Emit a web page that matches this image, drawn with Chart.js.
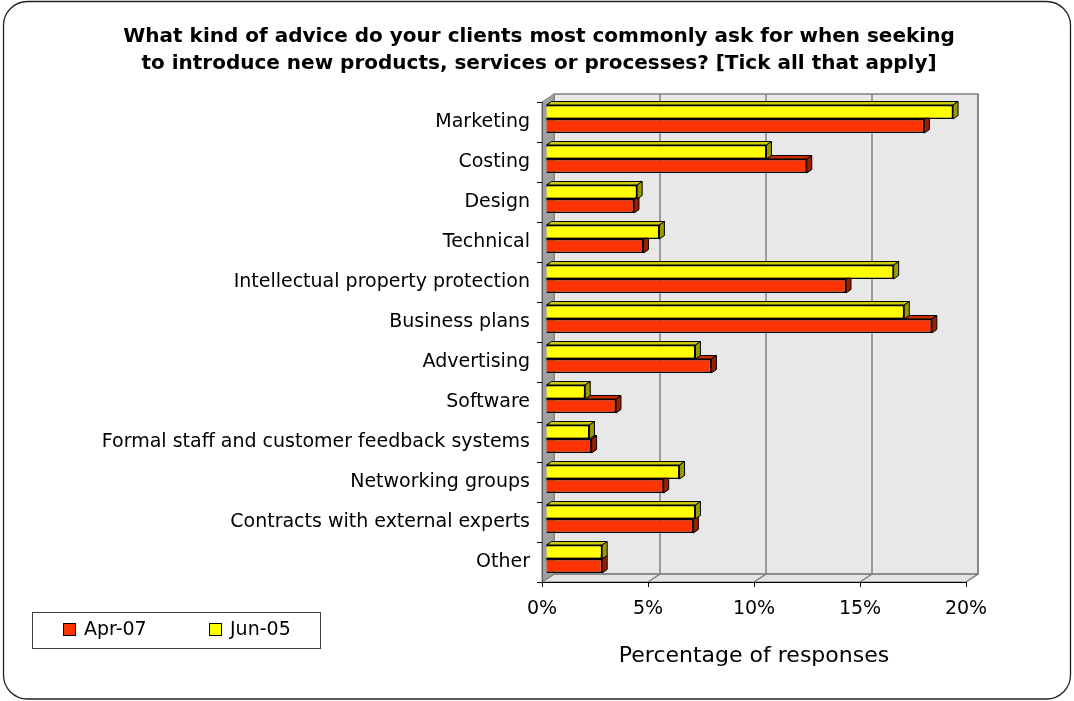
<!DOCTYPE html>
<html>
  <head>
    <style>
      html, body { margin: 0; background: #fff; }
      #chart-container { position: relative; width: 1074px; height: 701px; }
    </style>
  </head>
  <body>
    <div id="chart-container">
      <canvas id="chart"></canvas>
    </div>

    <script src="https://cdn.jsdelivr.net/npm/chart.js"></script>
    <script>
      const categories = [
        "Marketing",
        "Costing",
        "Design",
        "Technical",
        "Intellectual property protection",
        "Business plans",
        "Advertising",
        "Software",
        "Formal staff and customer feedback systems",
        "Networking groups",
        "Contracts with external experts",
        "Other"
      ];
      // percentage of responses
      const jun05 = [19.2, 10.4, 4.3, 5.35, 16.4, 16.9, 7.05, 1.85, 2.05, 6.3, 7.05, 2.65];
      const apr07 = [17.85, 12.3, 4.15, 4.6, 14.15, 18.2, 7.8, 3.3, 2.15, 5.55, 6.95, 2.65];
      const xTicks = [0, 5, 10, 15, 20];

      const titleLines = [
        "What kind of advice do your clients most commonly ask for when seeking",
        "to introduce new products, services or processes? [Tick all that apply]"
      ];

      const FONT = "'DejaVu Sans', 'Liberation Sans', Arial, sans-serif";
      Chart.defaults.font.family = FONT;
      Chart.defaults.color = '#000';

      // depth of the walls and of the bars (pseudo 3d)
      const DX = 12, DY = 8;
      const BAR_DX = 5, BAR_DY = 3.5;
      const BAR_SHIFT_X = 4, BAR_SHIFT_Y = -3;

      function poly(ctx, pts, fill, stroke, lw) {
        ctx.beginPath();
        ctx.moveTo(pts[0][0], pts[0][1]);
        for (let i = 1; i < pts.length; i++) ctx.lineTo(pts[i][0], pts[i][1]);
        ctx.closePath();
        if (fill) { ctx.fillStyle = fill; ctx.fill(); }
        if (stroke) { ctx.strokeStyle = stroke; ctx.lineWidth = lw || 1; ctx.stroke(); }
      }

      const walls = {
        id: 'walls',
        // centre the title over the plot rather than the whole canvas
        afterLayout(chart) {
          if (chart.titleBlock) chart.titleBlock.left = 112;
        },
        beforeDraw(chart) {
          const ctx = chart.ctx;
          const a = chart.chartArea;
          const x = chart.scales.x;
          ctx.save();

          // rounded frame round the whole chart
          ctx.beginPath();
          ctx.roundRect(3.5, 1.5, 1067, 697.5, 24);
          ctx.strokeStyle = '#222';
          ctx.lineWidth = 1.3;
          ctx.stroke();

          // back wall
          ctx.fillStyle = '#E8E8E8';
          ctx.fillRect(a.left + DX, a.top - DY, a.width, a.height);

          // floor
          poly(ctx, [[a.left, a.bottom], [a.left + DX, a.bottom - DY],
                     [a.right + DX, a.bottom - DY], [a.right, a.bottom]], '#E4E4E4', '#808080', 1);

          // gridlines on the floor and back wall
          ctx.strokeStyle = '#808080';
          ctx.lineWidth = 1.5;
          xTicks.forEach(v => {
            const px = x.getPixelForValue(v);
            ctx.beginPath();
            ctx.moveTo(px, a.bottom);
            ctx.lineTo(px + DX, a.bottom - DY);
            ctx.lineTo(px + DX, a.top - DY);
            ctx.stroke();
          });
          ctx.strokeRect(a.left + DX, a.top - DY, a.width, a.height);

          // left wall
          poly(ctx, [[a.left, a.top], [a.left + DX, a.top - DY],
                     [a.left + DX, a.bottom - DY], [a.left, a.bottom]], '#A0A0A0', '#808080', 1);
          ctx.restore();
        }
      };

      const bars3d = {
        id: 'bars3d',
        beforeDatasetsDraw(chart) {
          chart.ctx.save();
          chart.ctx.translate(BAR_SHIFT_X, BAR_SHIFT_Y);
        },
        afterDatasetDraw(chart, args) {
          const ctx = chart.ctx;
          const ds = chart.data.datasets[args.index];
          args.meta.data.forEach(bar => {
            const {x, y, base, height} = bar.getProps(['x', 'y', 'base', 'height'], true);
            const top = y - height / 2, bottom = y + height / 2;
            poly(ctx, [[base, top], [x, top], [x + BAR_DX, top - BAR_DY], [base + BAR_DX, top - BAR_DY]],
                 ds.topColor, '#000', 1);
            poly(ctx, [[x, top], [x + BAR_DX, top - BAR_DY], [x + BAR_DX, bottom - BAR_DY], [x, bottom]],
                 ds.sideColor, '#000', 1);
          });
        },
        afterDatasetsDraw(chart) {
          chart.ctx.restore();
        }
      };

      // boxed legend, bottom left
      const boxLegend = {
        id: 'boxLegend',
        afterDraw(chart) {
          const ctx = chart.ctx;
          const items = chart.data.datasets.slice().reverse();
          ctx.save();
          ctx.strokeStyle = '#404040';
          ctx.lineWidth = 1;
          ctx.strokeRect(32.5, 612.5, 288, 36);
          ctx.font = '19px ' + FONT;
          ctx.textBaseline = 'middle';
          ctx.fillStyle = '#000';
          items.forEach((ds, i) => {
            const x0 = 63 + i * 146;
            ctx.fillStyle = ds.backgroundColor;
            ctx.fillRect(x0, 623, 13, 13);
            ctx.strokeStyle = '#000';
            ctx.strokeRect(x0 + 0.5, 623.5, 12, 12);
            ctx.fillStyle = '#000';
            ctx.fillText(ds.label, x0 + 21, 630);
          });
          ctx.restore();
        }
      };

      new Chart(document.getElementById('chart'), {
        type: 'bar',
        data: {
          labels: categories,
          datasets: [
            {
              label: 'Jun-05',
              data: jun05,
              backgroundColor: '#FFFF00',
              topColor: '#CCCC00',
              sideColor: '#999900',
              borderColor: '#000',
              borderWidth: 1.5,
              clip: false
            },
            {
              label: 'Apr-07',
              data: apr07,
              backgroundColor: '#FF3300',
              topColor: '#CC2900',
              sideColor: '#991F00',
              borderColor: '#000',
              borderWidth: 1.5,
              clip: false
            }
          ]
        },
        options: {
          indexAxis: 'y',
          responsive: true,
          maintainAspectRatio: false,
          animation: false,
          categoryPercentage: 0.7,
          barPercentage: 1,
          layout: { padding: { left: 86, right: 108, top: 0, bottom: 0 } },
          plugins: {
            legend: { display: false },
            tooltip: { enabled: false },
            title: {
              display: true,
              text: titleLines,
              color: '#000',
              font: { size: 20, weight: 'bold', lineHeight: 1.35 },
              padding: { top: 23.5, bottom: 24.5 }
            }
          },
          scales: {
            x: {
              min: 0,
              max: 20,
              afterBuildTicks: s => { s.ticks = xTicks.map(v => ({ value: v })); },
              ticks: {
                font: { size: 19 },
                padding: 11,
                callback: v => v + '%'
              },
              grid: { drawOnChartArea: false, tickLength: 5, tickColor: '#000' },
              border: { color: '#000', width: 1 },
              title: {
                display: true,
                text: 'Percentage of responses',
                font: { size: 22 },
                padding: { top: 0, bottom: 32 }
              },
              afterFit: s => { s.height = 119; }
            },
            y: {
              ticks: { font: { size: 19 }, padding: 7, autoSkip: false },
              grid: { offset: true, drawOnChartArea: false, tickLength: 5, tickColor: '#000' },
              border: { color: '#555', width: 1 },
              afterFit: s => { s.width = 456; }
            }
          }
        },
        plugins: [walls, bars3d, boxLegend]
      });
    </script>
  </body>
</html>
